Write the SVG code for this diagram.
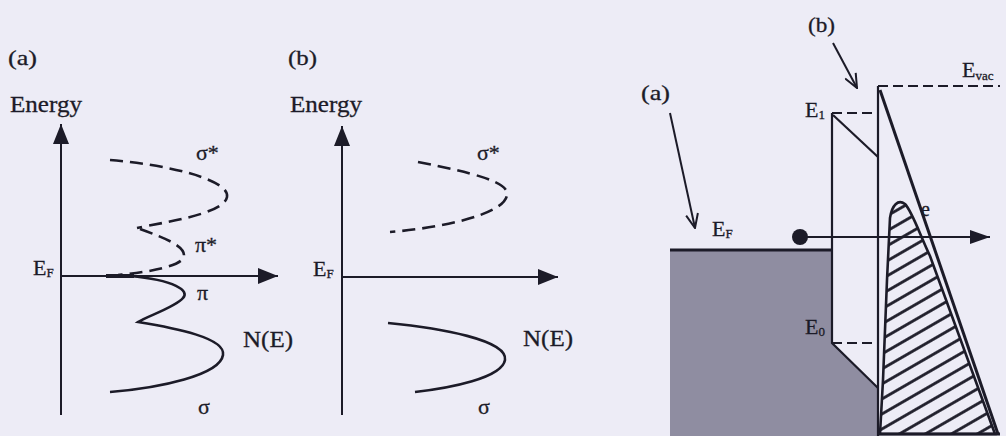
<svg xmlns="http://www.w3.org/2000/svg" width="1006" height="436" viewBox="0 0 1006 436">
<style>
text{font-family:"Liberation Serif","Times New Roman",serif;fill:#1c1b28;stroke:#1c1b28;stroke-width:0.3}
.lbl{font-size:22px}
.big{font-size:24px}
.sub{font-size:13px}
.ln{stroke:#1c1b28;stroke-width:2.2;fill:none}
.ax{stroke:#1c1b28;stroke-width:2;fill:none}
.cv{stroke:#1c1b28;stroke-width:2.6;fill:none}
.ds{stroke:#1c1b28;stroke-width:2.6;fill:none;stroke-dasharray:13 7}
.dl{stroke:#1c1b28;stroke-width:2;fill:none;stroke-dasharray:10 5}
</style>
<defs>
<marker id="tri" viewBox="0 0 20 16" refX="20" refY="8" markerWidth="20" markerHeight="16" markerUnits="userSpaceOnUse" orient="auto">
<path d="M0,0 L20,8 L0,16 Z" fill="#1c1b28"/>
</marker>
<marker id="tri2" viewBox="0 0 20 14" refX="20" refY="7" markerWidth="20" markerHeight="14" markerUnits="userSpaceOnUse" orient="auto">
<path d="M0,0 L20,7 L0,14 Z" fill="#1c1b28"/>
</marker>
<marker id="vee" viewBox="0 0 16 14" refX="15" refY="7" markerWidth="16" markerHeight="14" markerUnits="userSpaceOnUse" orient="auto">
<path d="M1,1 L15,7 L1,13" fill="none" stroke="#1c1b28" stroke-width="2"/>
</marker>
<pattern id="hatch" patternUnits="userSpaceOnUse" width="12" height="13" patternTransform="rotate(-30)">
<line x1="0" y1="6.5" x2="12" y2="6.5" stroke="#1c1b28" stroke-width="2.8"/>
</pattern>
</defs>
<rect width="1006" height="436" fill="#edecf6"/>

<g id="panel-a">
<text x="8" y="65" class="lbl" textLength="29" lengthAdjust="spacingAndGlyphs">(a)</text>
<text x="10" y="112" class="big" textLength="72" lengthAdjust="spacingAndGlyphs">Energy</text>
<line x1="61" y1="415" x2="61" y2="124" class="ax" marker-end="url(#tri)"/>
<line x1="61" y1="276" x2="278" y2="276" class="ax" marker-end="url(#tri)"/>
<line x1="106" y1="276" x2="134" y2="276" stroke="#1c1b28" stroke-width="4"/>
<path class="ds" d="M110,160 C170,165 230,180 227,197 C224,214 165,222 137,228"/>
<path class="ds" d="M140,229 C165,238 185,246 184,256 C183,266 150,272 118,275"/>
<path class="cv" d="M130,276 C175,280 190,291 183,298 C176,307 145,317 138,322 C175,328 226,338 223,355 C220,375 160,388 110,392"/>
<text x="196" y="160" class="lbl">σ*</text>
<text x="195" y="252" class="lbl">π*</text>
<text x="197" y="300" class="lbl">π</text>
<text x="243" y="347" class="big" textLength="50" lengthAdjust="spacingAndGlyphs">N(E)</text>
<text x="198" y="414" class="lbl">σ</text>
<text x="33" y="275" class="lbl">E<tspan class="sub" dy="2">F</tspan></text>
</g>

<g id="panel-b">
<text x="288" y="65" class="lbl" textLength="29" lengthAdjust="spacingAndGlyphs">(b)</text>
<text x="290" y="112" class="big" textLength="72" lengthAdjust="spacingAndGlyphs">Energy</text>
<line x1="342" y1="415" x2="342" y2="126" class="ax" marker-end="url(#tri)"/>
<line x1="342" y1="277" x2="558" y2="277" class="ax" marker-end="url(#tri)"/>
<path class="ds" d="M418,162 C470,172 510,182 507,195 C504,215 440,228 390,232"/>
<path class="cv" d="M388,323 C440,328 508,340 505,360 C502,378 450,388 415,392"/>
<text x="477" y="160" class="lbl">σ*</text>
<text x="523" y="346" class="big" textLength="50" lengthAdjust="spacingAndGlyphs">N(E)</text>
<text x="478" y="414" class="lbl">σ</text>
<text x="313" y="276" class="lbl">E<tspan class="sub" dy="2">F</tspan></text>
</g>

<g id="panel-c">
<path d="M670,250 L832,250 L832,343 L878,388 L878,436 L670,436 Z" fill="#8f8da1"/>
<line x1="670" y1="250" x2="832" y2="250" stroke="#1c1b28" stroke-width="3"/>
<path class="ln" d="M832,250 L832,113"/>
<line x1="833" y1="115" x2="878" y2="157" class="ln"/>
<line x1="832" y1="113" x2="878" y2="113" class="dl"/>
<path class="ln" d="M832,250 L832,343 L878,388"/>
<line x1="832" y1="343" x2="878" y2="343" class="dl"/>
<line x1="878" y1="86" x2="878" y2="436" class="ln"/>
<line x1="878" y1="86" x2="1000" y2="86" class="dl"/>
<path d="M880,434 L883,380 L887,280 L890,218 C892,205 898,199 905,204 C912,211 920,235 930,256 L995,434 Z" fill="url(#hatch)" stroke="#1c1b28" stroke-width="2.6"/>
<line x1="880" y1="90" x2="998" y2="434" stroke="#1c1b28" stroke-width="3"/>
<line x1="878" y1="434" x2="1000" y2="434" stroke="#1c1b28" stroke-width="3"/>
<circle cx="800" cy="237" r="8" fill="#1c1b28"/>
<line x1="800" y1="237" x2="990" y2="237" class="ax" marker-end="url(#tri2)"/>
<line x1="670" y1="113" x2="695" y2="228" class="ax" marker-end="url(#vee)"/>
<line x1="833" y1="43" x2="857" y2="88" class="ax" marker-end="url(#vee)"/>
<text x="641" y="100" class="lbl" textLength="29" lengthAdjust="spacingAndGlyphs">(a)</text>
<text x="808" y="32" class="lbl" textLength="27" lengthAdjust="spacingAndGlyphs">(b)</text>
<text x="712" y="236" class="lbl">E<tspan class="sub" dy="2">F</tspan></text>
<text x="805" y="117" class="lbl">E<tspan class="sub" dy="2">1</tspan></text>
<text x="805" y="334" class="lbl">E<tspan class="sub" dy="2">0</tspan></text>
<text x="962" y="77" class="lbl">E<tspan class="sub" dy="3">vac</tspan></text>
<text x="921" y="216" class="lbl" style="font-size:20px">e</text>
</g>
</svg>
